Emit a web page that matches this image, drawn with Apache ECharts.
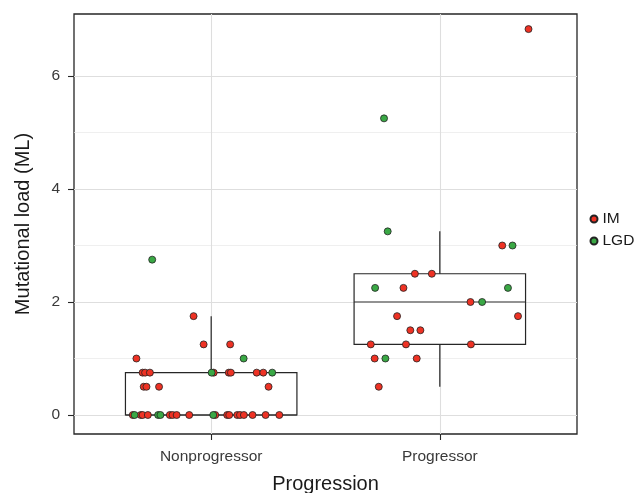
<!DOCTYPE html>
<html>
<head>
<meta charset="utf-8">
<script src="https://cdn.jsdelivr.net/npm/echarts@6/dist/echarts.min.js"></script>
<style>
html,body{margin:0;padding:0;background:#fff;}
#chart{width:634px;height:493px;}
</style>
</head>
<body>
<div id="chart"></div>
<script>
// ---- data ----
const categories = ['Nonprogressor', 'Progressor'];
const seriesNames = ['IM', 'LGD'];
const yTicks = [0, 2, 4, 6];
const yMinorTicks = [1, 3, 5];

// IM, Nonprogressor: values and horizontal jitter (category units)
const imNonValue  = [0,0,0,0,0,0,0,0,0,0,0,0,0,0,0,0,0, 0.5,0.5,0.5,0.5, 0.75,0.75,0.75,0.75,0.75,0.75,0.75,0.75, 1.0, 1.25,1.25, 1.75];
const imNonJitter = [-0.343,-0.308,-0.300,-0.277,-0.181,-0.169,-0.151,-0.096,0.018,0.070,0.079,0.114,0.126,0.143,0.181,0.238,0.298,
                     -0.295,-0.283,-0.228,0.251,
                     -0.300,-0.289,-0.268,0.011,0.077,0.086,0.199,0.228,
                     -0.327, -0.033,0.083, -0.077];
// IM, Progressor
const imProValue  = [6.83, 3.0, 2.5,2.5, 2.25, 2.0, 1.75,1.75, 1.5,1.5, 1.25,1.25,1.25, 1.0,1.0, 0.5];
const imProJitter = [0.388, 0.273, -0.109,-0.035, -0.159, 0.134, -0.187,0.342, -0.129,-0.085, -0.302,-0.148,0.136, -0.285,-0.101, -0.267];
// LGD, Nonprogressor
const lgdNonValue  = [0,0,0,0, 0.75,0.75, 1.0, 2.75];
const lgdNonJitter = [-0.335,-0.232,-0.222,0.009, 0.002,0.267, 0.142, -0.258];
// LGD, Progressor
const lgdProValue  = [5.25, 3.25, 3.0, 2.25,2.25, 2.0, 1.0];
const lgdProJitter = [-0.244, -0.228, 0.318, -0.283,0.298, 0.185, -0.238];

// ---- build ----
function pts(values, jitter, catIdx) {
  return values.map((v, i) => [catIdx + 1 + jitter[i], v]);
}
function quantile(sorted, p) {
  const h = (sorted.length - 1) * p, lo = Math.floor(h);
  const hi = Math.min(lo + 1, sorted.length - 1);
  return sorted[lo] + (h - lo) * (sorted[hi] - sorted[lo]);
}
function boxStats(values, catIdx) {
  const s = values.slice().sort((a, b) => a - b);
  const q1 = quantile(s, 0.25), med = quantile(s, 0.5), q3 = quantile(s, 0.75);
  const iqr = q3 - q1;
  const lowW = Math.min(...s.filter(v => v >= q1 - 1.5 * iqr));
  const highW = Math.max(...s.filter(v => v <= q3 + 1.5 * iqr));
  return [catIdx + 1, lowW, q1, med, q3, highW];
}
const boxData = [
  boxStats(imNonValue.concat(lgdNonValue), 0),
  boxStats(imProValue.concat(lgdProValue), 1)
];

const RED = '#EE3224', GREEN = '#3AA845', INK = '#262626';
const FONT = 'Liberation Sans, Arial, Helvetica, sans-serif';
const BOX_HALF = 0.375;

const chart = echarts.init(document.getElementById('chart'), null, {renderer: 'canvas'});
chart.setOption({
  animation: false,
  backgroundColor: '#ffffff',
  textStyle: {fontFamily: FONT},
  grid: {left: 74, right: 57, top: 14, bottom: 59, show: true, borderColor: INK, borderWidth: 1.3, backgroundColor: 'transparent', containLabel: false, outerBoundsMode: 'none'},
  legend: {
    orient: 'vertical', left: 589.5, top: 211, padding: 0,
    itemWidth: 7, itemHeight: 7, itemGap: 6, icon: 'circle',
    data: seriesNames,
    textStyle: {fontSize: 15.5, color: '#1a1a1a', lineHeight: 16, fontFamily: FONT}
  },
  xAxis: {
    type: 'value', min: 0.4, max: 2.6, position: 'bottom',
    axisLine: {show: false, onZero: false},
    axisTick: {show: true, length: 6, customValues: [1, 2], lineStyle: {color: INK, width: 1.1}},
    axisLabel: {customValues: [1, 2], formatter: v => categories[Math.round(v) - 1] || '', fontSize: 15.5, color: '#3a3a3a', margin: 15, fontFamily: FONT},
    splitLine: {show: true, lineStyle: {color: '#dedede', width: 1.1}},
    name: 'Progression', nameLocation: 'middle', nameGap: 40,
    nameTextStyle: {fontSize: 20, color: '#1a1a1a', fontFamily: FONT}
  },
  yAxis: [{
    type: 'value', min: -0.336, max: 7.097, position: 'left',
    axisLine: {show: false, onZero: false},
    axisTick: {show: true, length: 6, customValues: yTicks, lineStyle: {color: INK, width: 1.1}},
    axisLabel: {customValues: yTicks, fontSize: 15.5, color: '#3a3a3a', margin: 14, fontFamily: FONT},
    splitLine: {show: true, lineStyle: {color: '#dedede', width: 1.1}},
    name: 'Mutational load (ML)', nameLocation: 'middle', nameGap: 41,
    nameTextStyle: {fontSize: 20, color: '#1a1a1a', fontFamily: FONT}
  }, {
    type: 'value', min: -0.336, max: 7.097, position: 'left',
    axisLine: {show: false, onZero: false},
    axisTick: {show: false, customValues: yMinorTicks},
    axisLabel: {show: false, customValues: yMinorTicks},
    splitLine: {show: true, lineStyle: {color: '#e8e8e8', width: 0.7}}
  }],
  series: [{
    type: 'custom', name: 'box', z: 2,
    data: boxData,
    encode: {x: 0, y: [1, 2, 3, 4, 5]},
    renderItem: function (params, api) {
      const x = api.value(0);
      const lo = api.coord([x, api.value(1)]);
      const q1 = api.coord([x, api.value(2)]);
      const md = api.coord([x, api.value(3)]);
      const q3 = api.coord([x, api.value(4)]);
      const hi = api.coord([x, api.value(5)]);
      const left = api.coord([x - BOX_HALF, api.value(2)])[0];
      const right = api.coord([x + BOX_HALF, api.value(2)])[0];
      const ls = {stroke: INK, lineWidth: 1.2, fill: null};
      return {
        type: 'group',
        children: [
          {type: 'rect', shape: {x: left, y: q3[1], width: right - left, height: q1[1] - q3[1]}, style: {fill: '#ffffff', stroke: INK, lineWidth: 1.2}, z2: 1},
          {type: 'line', shape: {x1: hi[0], y1: hi[1], x2: q3[0], y2: q3[1]}, style: ls, z2: 2},
          {type: 'line', shape: {x1: lo[0], y1: lo[1], x2: q1[0], y2: q1[1]}, style: ls, z2: 2},
          {type: 'line', shape: {x1: left, y1: md[1], x2: right, y2: md[1]}, style: ls, z2: 2}
        ]
      };
    },
    silent: true
  }, {
    type: 'scatter', name: 'IM', z: 3,
    data: pts(imNonValue, imNonJitter, 0).concat(pts(imProValue, imProJitter, 1)),
    symbol: 'circle', symbolSize: 7,
    itemStyle: {color: RED, borderColor: '#222222', borderWidth: 0.8, opacity: 1}
  }, {
    type: 'scatter', name: 'LGD', z: 3,
    data: pts(lgdNonValue, lgdNonJitter, 0).concat(pts(lgdProValue, lgdProJitter, 1)),
    symbol: 'circle', symbolSize: 7,
    itemStyle: {color: GREEN, borderColor: '#222222', borderWidth: 0.8, opacity: 1}
  }]
});
</script>
</body>
</html>
